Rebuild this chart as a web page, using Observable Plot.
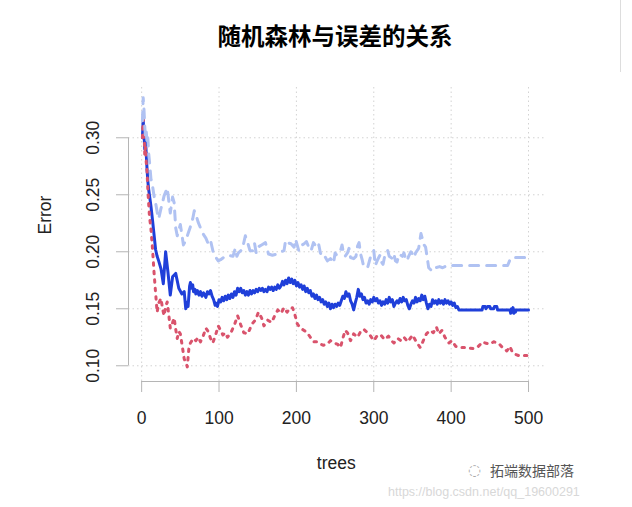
<!DOCTYPE html>
<html>
<head>
<meta charset="utf-8">
<script src="https://cdn.jsdelivr.net/npm/d3@7"></script>
<script src="https://cdn.jsdelivr.net/npm/@observablehq/plot@0.6"></script>
<style>
  html, body { margin: 0; padding: 0; background: #fff; }
  #wrap { position: relative; width: 632px; height: 507px; overflow: hidden; background: #fff; }
  #wrap svg { position: absolute; left: 0; top: 0; }
  #title { position: absolute; left: 0; width: 670px; top: 22px; text-align: center; line-height: 26px;
           font-family: "Noto Sans CJK SC", sans-serif; font-weight: 700; font-size: 23.5px; color: #000; }
  #edge { position: absolute; left: 620px; top: 0; width: 1px; height: 72px; background: #ddd; }
  #wm { position: absolute; left: 490px; top: 463px; line-height: 15px; font-family: "Noto Sans CJK SC", sans-serif;
        font-size: 14px; color: #555; }
  #wmicon { position: absolute; left: 468px; top: 463px; line-height: 15px; font-family: "DejaVu Sans"; font-size: 15px; color: #aaa; }
  #url { position: absolute; left: 388px; top: 486px; line-height: 13px; font-family: "Liberation Sans", Arial, sans-serif;
         font-size: 12.5px; color: #d8d8d8; }
</style>
</head>
<body>
<div id="wrap">
  <div id="title"></div>
  <div id="edge"></div>
</div>
<script>
// ---- data ----
const xTicks = [0, 100, 200, 300, 400, 500];
const yTicks = [0.10, 0.15, 0.20, 0.25, 0.30];
const xLabel = "trees";
const yLabel = "Error";
const titleText = "随机森林与误差的关系";

// OOB error (solid blue): [trees, error]
const oobPoints = [[1,0.300],[2,0.315],[3,0.305],[4,0.290],[5,0.298],[6,0.285],[7,0.272],[8,0.262],[9,0.255],[10,0.250],[12,0.240],[14,0.228],[16,0.215],[18,0.202],[20,0.196],[22,0.192],[25,0.185],[28,0.172],[31,0.200],[34,0.182],[37,0.162],[40,0.178],[44,0.181],[48,0.168],[52,0.163],[55,0.165],
[57,0.150],[59,0.156],[60,0.152],[62,0.170],[63,0.173],[64,0.168],[66,0.171],[67,0.165],[69,0.167],[70,0.163],[72,0.166],[74,0.162],[76,0.165],[78,0.161],[80,0.164],[83,0.160],[85,0.165],[87,0.163],[89,0.166],[91,0.161],[93,0.158],[95,0.153],[96,0.155],[98,0.152],[100,0.158],[102,0.156],[104,0.160],[106,0.157],[108,0.161],[110,0.158],[112,0.162],[114,0.159],[116,0.163],[118,0.160],[120,0.165],[122,0.162],[124,0.168],[126,0.165],[128,0.168],[130,0.164],[132,0.166],[134,0.162],[136,0.165],[138,0.162],[140,0.166],[142,0.163],[144,0.166],[146,0.164],[148,0.167],[150,0.165],[152,0.168],[154,0.166],[156,0.168],[158,0.165],[160,0.167],[162,0.165],[164,0.169],[166,0.167],[168,0.169],[170,0.166],[172,0.169],[174,0.167],[176,0.171],[178,0.168],[180,0.170],[182,0.174],[184,0.171],[186,0.175],[188,0.172],[190,0.177],[192,0.173],[194,0.176],[196,0.172],[198,0.175],[200,0.170],[202,0.173],[204,0.169],[206,0.171],[208,0.167],[210,0.170],[212,0.165],[214,0.168],[216,0.164],[218,0.166],[220,0.161],[222,0.163],[224,0.159],[226,0.162],[228,0.158],[230,0.160],[232,0.156],[234,0.158],[236,0.154],[238,0.156],[240,0.152],[242,0.155],[244,0.150],[246,0.154],[248,0.151],[250,0.154],[252,0.152],[254,0.155],[256,0.153],[258,0.157],[260,0.161],[262,0.159],[264,0.165],[266,0.161],[268,0.163],[270,0.157],[272,0.154],[274,0.149],[276,0.155],[278,0.160],[280,0.167],[282,0.161],[284,0.163],[286,0.158],[288,0.160],[290,0.155],[292,0.157],[294,0.154],[296,0.158],[298,0.156],[300,0.160],[302,0.157],[304,0.159],[306,0.155],[308,0.157],[310,0.153],[312,0.156],[314,0.154],[316,0.158],[318,0.155],[320,0.160],[322,0.156],[324,0.158],[326,0.152],[328,0.155],[330,0.157],[332,0.155],[334,0.159],[336,0.156],[338,0.160],[340,0.157],[342,0.158],[344,0.153],[346,0.150],[348,0.154],[350,0.157],[352,0.155],[354,0.160],[356,0.156],[358,0.159],[360,0.157],[362,0.162],[364,0.158],[366,0.161],[368,0.155],[370,0.150],[372,0.154],[374,0.152],[376,0.158],[378,0.155],[380,0.157],[382,0.154],[384,0.158],[386,0.155],[388,0.157],[390,0.154],[392,0.158],[394,0.155],[396,0.157],[398,0.154],[400,0.156],[402,0.153],[404,0.155],[406,0.151],[408,0.152],[410,0.149],[440,0.149],[441,0.152],[444,0.152],[445,0.150],[447,0.152],[450,0.152],[451,0.150],[455,0.150],[456,0.152],[459,0.152],[460,0.149],[476,0.149],[477,0.146],[478,0.150],[479,0.147],[480,0.151],[481,0.146],[482,0.149],[483,0.147],[484,0.149],[500,0.149]];

// class error (dotted red): [trees, error]
const redPoints = [[1,0.300],[2,0.320],[3,0.310],[4,0.285],[5,0.292],[6,0.278],[7,0.270],[8,0.255],[9,0.243],[10,0.232],[12,0.220],[14,0.203],[16,0.182],[18,0.164],[20,0.147],[22,0.155],[25,0.159],[27,0.150],[29,0.144],[31,0.152],[33,0.156],[35,0.145],[37,0.133],[40,0.138],[42,0.142],[44,0.132],[46,0.124],[48,0.130],[50,0.128],[53,0.115],[55,0.106],[57,0.103],[59,0.099],[61,0.115],[63,0.120],[67,0.124],[70,0.122],[73,0.125],[76,0.121],[80,0.127],[83,0.133],[86,0.130],[89,0.124],[92,0.120],[96,0.128],[99,0.135],[102,0.131],[105,0.127],[108,0.129],[111,0.125],[116,0.130],[120,0.136],[124,0.144],[128,0.136],[132,0.129],[137,0.128],[143,0.137],[147,0.140],[151,0.147],[155,0.142],[158,0.135],[163,0.140],[168,0.138],[172,0.144],[176,0.149],[180,0.146],[184,0.151],[188,0.147],[192,0.151],[195,0.151],[198,0.145],[201,0.137],[205,0.133],[210,0.131],[214,0.129],[218,0.125],[222,0.121],[227,0.121],[231,0.119],[235,0.118],[240,0.119],[244,0.122],[248,0.120],[253,0.119],[257,0.116],[260,0.124],[263,0.131],[266,0.129],[270,0.122],[274,0.128],[279,0.125],[283,0.130],[287,0.132],[292,0.129],[296,0.126],[300,0.122],[305,0.127],[309,0.127],[314,0.123],[319,0.126],[323,0.122],[326,0.120],[331,0.124],[335,0.122],[339,0.125],[344,0.121],[350,0.127],[355,0.121],[360,0.116],[364,0.122],[368,0.128],[373,0.131],[377,0.129],[381,0.134],[384,0.128],[388,0.131],[392,0.125],[397,0.120],[401,0.122],[406,0.117],[412,0.116],[420,0.116],[429,0.115],[435,0.117],[441,0.121],[444,0.120],[450,0.119],[455,0.121],[461,0.120],[465,0.117],[468,0.115],[472,0.113],[476,0.117],[479,0.112],[483,0.110],[487,0.109],[495,0.109],[500,0.109]];

// class error (dashed light blue): [trees, error]
const lbPoints = [[1,0.315],[2,0.335],[3,0.325],[4,0.310],[5,0.300],[6,0.305],[7,0.295],[8,0.300],[9,0.287],[10,0.280],[12,0.264],[14,0.258],[16,0.249],[18,0.243],[20,0.235],[22,0.229],[25,0.238],[29,0.249],[33,0.256],[37,0.234],[40,0.248],[42,0.243],[44,0.221],[46,0.214],[50,0.224],[54,0.206],[57,0.210],[60,0.216],[63,0.222],[66,0.229],[68,0.236],[70,0.233],[73,0.226],[76,0.221],[80,0.215],[83,0.212],[86,0.207],[89,0.210],[93,0.198],[96,0.195],[99,0.192],[102,0.193],[106,0.195],[112,0.197],[118,0.196],[121,0.203],[123,0.196],[125,0.199],[130,0.202],[134,0.214],[137,0.208],[140,0.201],[145,0.201],[146,0.207],[148,0.199],[150,0.204],[155,0.206],[160,0.208],[164,0.198],[169,0.197],[175,0.198],[180,0.200],[184,0.201],[186,0.210],[188,0.208],[193,0.207],[197,0.204],[199,0.211],[201,0.206],[203,0.201],[205,0.205],[210,0.207],[213,0.209],[216,0.204],[219,0.201],[222,0.208],[227,0.203],[229,0.206],[231,0.199],[233,0.196],[236,0.197],[240,0.192],[244,0.194],[248,0.190],[250,0.199],[252,0.197],[257,0.201],[259,0.206],[261,0.198],[263,0.196],[266,0.199],[268,0.203],[270,0.195],[274,0.194],[277,0.196],[279,0.205],[281,0.208],[283,0.198],[285,0.193],[287,0.187],[292,0.186],[296,0.196],[300,0.201],[302,0.188],[305,0.193],[308,0.197],[310,0.191],[312,0.189],[315,0.199],[318,0.201],[320,0.196],[324,0.194],[326,0.198],[328,0.192],[330,0.191],[333,0.198],[337,0.196],[339,0.199],[341,0.194],[343,0.192],[345,0.196],[348,0.200],[350,0.198],[352,0.195],[354,0.199],[356,0.201],[358,0.203],[361,0.216],[363,0.211],[365,0.206],[367,0.204],[369,0.195],[371,0.186],[374,0.184],[377,0.183],[380,0.186],[385,0.187],[389,0.186],[395,0.188],[402,0.188],[473,0.188],[476,0.193],[478,0.195],[500,0.195]];

const xDomain = [-17, 520];
const yDomain = [0.0862, 0.3441];

const axisGray = "#b5b5b5";
const gridGray = "#d3d3d3";

const chart = Plot.plot({
  width: 632,
  height: 507,
  marginLeft: 128,
  marginRight: 88.5,
  marginTop: 87,
  marginBottom: 126,
  x: {domain: xDomain},
  y: {domain: yDomain},
  style: {fontFamily: "'Liberation Sans', Arial, sans-serif", background: "transparent", color: "#222"},
  marks: [
    Plot.gridX(xTicks, {stroke: gridGray, strokeOpacity: 1, strokeDasharray: "1.5,3"}),
    Plot.gridY(yTicks, {stroke: gridGray, strokeOpacity: 1, strokeDasharray: "1.5,3"}),
    Plot.line(oobPoints, {x: d => d[0], y: d => d[1], stroke: "#1f3fd9", strokeWidth: 3, strokeLinejoin: "round"}),
    Plot.line(redPoints, {x: d => d[0], y: d => d[1], stroke: "#d9536c", strokeWidth: 3, strokeDasharray: "2.5,6"}),
    Plot.line(lbPoints, {x: d => d[0], y: d => d[1], stroke: "#b0c2f2", strokeWidth: 3, strokeDasharray: "9,8"}),
    // x axis: line between first and last tick, ticks and labels
    Plot.ruleY([yDomain[0]], {x1: xTicks[0], x2: xTicks[xTicks.length - 1], stroke: axisGray}),
    Plot.axisX(xTicks, {anchor: "bottom", tickSize: 11, stroke: axisGray, fill: "#222", fontSize: 17.5, tickPadding: 19, tickFormat: d => String(d), label: null}),
    // y axis
    Plot.ruleX([xDomain[0]], {y1: yTicks[0], y2: yTicks[yTicks.length - 1], stroke: axisGray}),
    Plot.axisY(yTicks, {anchor: "left", tickSize: 12, stroke: axisGray, fill: "none", label: null}),
    Plot.text(yTicks, {y: d => d, text: d => d.toFixed(2), frameAnchor: "left", dx: -35, rotate: -90,
      textAnchor: "middle", lineAnchor: "middle", fontSize: 17.5, fill: "#222"}),
    // axis titles
    Plot.text([xLabel], {frameAnchor: "bottom", dy: 82, fontSize: 17.5, fill: "#222", lineAnchor: "middle"}),
    Plot.text([yLabel], {frameAnchor: "left", dx: -83, rotate: -90, fontSize: 17.5, fill: "#222", lineAnchor: "middle"})
  ]
});

const wrap = document.getElementById("wrap");
wrap.insertBefore(chart, wrap.firstChild);
document.getElementById("title").textContent = titleText;

const icon = document.createElement("div"); icon.id = "wmicon"; icon.textContent = "◌"; wrap.appendChild(icon);
const wm = document.createElement("div"); wm.id = "wm"; wm.textContent = "拓端数据部落"; wrap.appendChild(wm);
const url = document.createElement("div"); url.id = "url"; url.textContent = "https://blog.csdn.net/qq_19600291"; wrap.appendChild(url);
</script>
</body>
</html>
